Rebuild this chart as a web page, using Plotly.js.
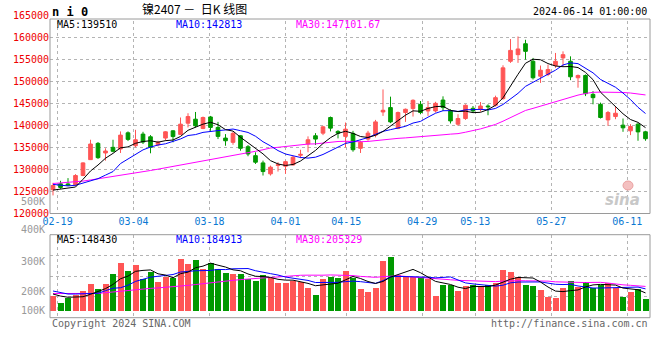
<!DOCTYPE html>
<html><head><meta charset="utf-8">
<script src="https://cdn.plot.ly/plotly-3.0.1.min.js"></script>
<style>html,body{margin:0;padding:0;background:#fff}#chart{width:660px;height:360px}</style>
</head><body><div id="chart"></div>
<script>
// ---------- data ----------
const dates = ["02-08","02-19","02-20","02-21","02-22","02-23","02-26","02-27","02-28","02-29",
"03-01","03-04","03-05","03-06","03-07","03-08","03-11","03-12","03-13","03-14",
"03-15","03-18","03-19","03-20","03-21","03-22","03-25","03-26","03-27","03-28",
"03-29","04-01","04-02","04-03","04-08","04-09","04-10","04-11","04-12","04-15",
"04-16","04-17","04-18","04-19","04-22","04-23","04-24","04-25","04-26","04-29",
"04-30","05-06","05-07","05-08","05-09","05-10","05-13","05-14","05-15","05-16",
"05-17","05-20","05-21","05-22","05-23","05-24","05-27","05-28","05-29","05-30",
"05-31","06-03","06-04","06-05","06-06","06-07","06-11","06-12","06-13","06-14"];
const openP = [125400,126740,126700,126510,128610,132210,135900,133720,135000,134620,
138290,135360,138000,137390,135590,137100,138740,137930,140480,141380,
139280,141890,139510,137100,136130,137620,135140,133110,131470,128990,
130900,130720,131020,133200,135750,137620,138220,141760,138610,137480,
138160,134780,136870,137770,143020,144010,139280,142890,143790,144750,
143250,143250,145720,143250,140250,141530,143850,143630,144370,144530,
146040,154510,156010,158490,154510,151130,151510,153540,155270,154510,
150770,151290,147010,144750,141220,141980,140030,138740,140250,138520];
const highP = [126960,127410,128020,128920,131620,136720,136200,134780,136720,138610,
138610,138970,138520,137770,136490,138670,138900,141760,142730,143020,
141980,142120,140770,138000,138520,137770,135520,133880,131990,130860,
131630,131990,133040,134460,137480,138220,139870,141980,138900,140630,
138740,136490,138740,141220,148130,146490,143110,143790,145880,145500,
145500,145320,146560,143630,142500,144750,144370,145270,144750,146710,
153600,159550,160140,159390,155270,153540,153760,156400,156760,155630,
151510,151510,147750,145140,143250,144240,141530,140250,140480,138740];
const lowP = [124100,125610,126300,126220,128470,132140,132370,131990,133880,133720,
136420,135000,135750,133650,135230,136490,136130,137770,139510,139510,
139120,138740,136870,135360,135590,134240,132980,131240,128610,128610,
129510,128990,130860,132530,133880,135520,137770,138610,137030,135000,
134010,133720,136490,137260,142120,140480,139120,140770,141980,142500,
142120,142890,143250,140410,139870,141220,142890,143110,142280,144240,
145810,154150,154150,154890,150380,149600,151130,153020,153380,150230,
148520,146620,144750,141530,139870,141380,138520,137770,136490,136490];
const closeP = [126350,125910,126450,128610,131470,135750,132660,134170,134100,137770,
136800,136720,136200,135000,136130,138520,137440,140250,141980,139870,
141760,139510,137480,136490,138160,134780,133490,131630,129510,130500,
131050,131760,132750,133400,136720,136870,139640,139350,138220,139120,
134460,136130,138220,140770,143400,140770,142890,143630,145660,142890,
144010,144980,144010,140990,141530,144530,143250,144370,144200,146260,
153020,156980,157300,156760,150770,152480,152640,154510,156010,150990,
151290,147160,146260,141760,142890,142730,139420,139730,138500,136950];
const volume = [122000,62000,103000,131000,164000,222000,181000,222000,306000,400000,
331000,381000,262000,325000,239000,278000,270000,431000,389000,422000,
345000,395000,345000,312000,306000,306000,262000,250000,298000,270000,
228000,228000,248000,242000,192000,131000,264000,283000,275000,333000,
270000,181000,158000,192000,417000,450000,298000,278000,278000,278000,
262000,125000,214000,214000,164000,206000,214000,206000,214000,228000,
339000,325000,278000,214000,206000,172000,117000,108000,192000,248000,
200000,242000,192000,214000,233000,187000,117000,158000,178000,100000];
// moving-average values before enough visible days exist
const ma5Head  = [125300,125500,125700,126000];
const ma10Head = [126600,126350,126250,126400,126900,127500,127900,128700,129500];
const ma30Head = [126800,126900,127000,127150,127350,127600,127850,128100,128350,128600,
                  128900,129150,129450,129750,130050,130350,130650,130950,131250,131600,
                  131950,132300,132600,132900,133200,133500,133800,134100,134450];
const vma5Head  = [139000,122000,112000,112000];
const vma10Head = [164000,150000,139000,139000,139000,145000,145000,167000,187000];
const vma30Head = [143000,143000,143000,143000,143000,143000,144000,150000,157000,163000,
                   170000,176000,181000,186000,190000,194000,198000,204000,211000,218000,
                   226000,233000,240000,247000,253000,259000,265000,270000,275000];
const labelDates = ["02-19","03-04","03-18","04-01","04-15","04-29","05-13","05-27","06-11"];
const priceTicks = [120000,125000,130000,135000,140000,145000,150000,155000,160000,165000];
const volLabels = ["500K","400K","300K","200K","100K"];
const headerPrice = ["MA5:139510","MA10:142813","MA30:147101.67"];
const headerVol = ["MA5:148430","MA10:184913","MA30:205329"];

// ---------- helpers ----------
function movingAverage(vals, n, head){
  return vals.map((v,i)=> i < n-1 ? head[i] : vals.slice(i-n+1,i+1).reduce((a,b)=>a+b,0)/n);
}
const W=660,H=360;
const px = x => x/W, py = y => 1 - y/H;
const RED='#ff5555', GREEN='#009900', GRID='#b4b4b4', FRAME='#9a9a9a';
const MONO='DejaVu Sans Mono, monospace';

const idx = dates.map((d,i)=>i);
const N = dates.length;
const tickvals = labelDates.map(d => dates.indexOf(d)*N/(N-1) - 0.4);
const barColors = closeP.map((c,i)=> c >= openP[i] ? RED : GREEN);

const traces = [
  {type:'candlestick', x:idx, open:openP, high:highP, low:lowP, close:closeP,
   xaxis:'x', yaxis:'y', whiskerwidth:0, hoverinfo:'skip',
   increasing:{line:{color:RED,width:1}, fillcolor:RED},
   decreasing:{line:{color:GREEN,width:1}, fillcolor:GREEN}},
  {type:'scatter', mode:'lines', x:idx, y:movingAverage(closeP,30,ma30Head), line:{color:'#ff00ff',width:1}, xaxis:'x', yaxis:'y', hoverinfo:'skip'},
  {type:'scatter', mode:'lines', x:idx, y:movingAverage(closeP,10,ma10Head), line:{color:'#0000ff',width:1}, xaxis:'x', yaxis:'y', hoverinfo:'skip'},
  {type:'scatter', mode:'lines', x:idx, y:movingAverage(closeP,5,ma5Head), line:{color:'#000000',width:1}, xaxis:'x', yaxis:'y', hoverinfo:'skip'},
  {type:'bar', x:idx, y:volume, marker:{color:barColors, line:{width:0}}, width:0.8, xaxis:'x2', yaxis:'y2', hoverinfo:'skip'},
  {type:'scatter', mode:'lines', x:idx, y:movingAverage(volume,30,vma30Head), line:{color:'#ff00ff',width:1}, xaxis:'x2', yaxis:'y2', hoverinfo:'skip'},
  {type:'scatter', mode:'lines', x:idx, y:movingAverage(volume,10,vma10Head), line:{color:'#0000ff',width:1}, xaxis:'x2', yaxis:'y2', hoverinfo:'skip'},
  {type:'scatter', mode:'lines', x:idx, y:movingAverage(volume,5,vma5Head), line:{color:'#000000',width:1}, xaxis:'x2', yaxis:'y2', hoverinfo:'skip'}
];

const xRange = [-0.4, N-0.4];
const volLo = -58333, volHi = 633333;
const layout = {
  width:W, height:H, margin:{l:0,r:0,t:0,b:0}, paper_bgcolor:'#fff', plot_bgcolor:'#fff',
  showlegend:false, dragmode:false, bargap:0,
  xaxis:{domain:[px(50),px(650)], range:xRange, anchor:'y', tickmode:'array', tickvals:tickvals, ticktext:labelDates,
    showgrid:true, gridcolor:GRID, griddash:'dot', gridwidth:1, zeroline:false, showline:false, ticks:'',
    tickfont:{family:MONO,size:10,color:'#0a78d2'}, rangeslider:{visible:false}, fixedrange:true},
  yaxis:{domain:[py(213.5),py(15)], range:[120000,165000], anchor:'x', tickmode:'array', tickvals:priceTicks,
    ticktext:priceTicks.map(String), showgrid:true, gridcolor:GRID, griddash:'dot', gridwidth:1, zeroline:false,
    showline:false, ticks:'', tickfont:{family:MONO,size:10,color:'#ee0000'}, fixedrange:true},
  xaxis2:{domain:[px(50),px(650)], range:xRange, anchor:'y2', tickmode:'array', tickvals:tickvals, showticklabels:false,
    showgrid:true, gridcolor:GRID, griddash:'dot', gridwidth:1, zeroline:false, showline:false, ticks:'', fixedrange:true},
  yaxis2:{domain:[py(317.7),py(234.7)], range:[volLo,volHi], anchor:'x2', tick0:volLo, dtick:(volHi-volLo)/4,
    showticklabels:false, showgrid:true, gridcolor:GRID, griddash:'dot', gridwidth:1, zeroline:false, showline:false, ticks:'', fixedrange:true},
  shapes:[
    {type:'rect', xref:'paper', yref:'paper', x0:px(50.5), x1:px(651), y0:py(18.5), y1:py(12), fillcolor:'#fff', line:{width:0}, layer:'above'},
    {type:'rect', xref:'paper', yref:'paper', x0:px(50), x1:px(650), y0:py(213.5), y1:py(19), line:{color:FRAME,width:1}, layer:'above'},
    {type:'rect', xref:'paper', yref:'paper', x0:px(50), x1:px(650), y0:py(317.7), y1:py(234.7), line:{color:FRAME,width:1}, layer:'above'},
    {type:'circle', xref:'paper', yref:'paper', x0:px(623), x1:px(633), y0:py(190), y1:py(181), fillcolor:'#f4c0c0', line:{color:'#eaa0a0',width:1}, layer:'above'}
  ],
  annotations:[]
};
function txt(text, x, y, opts){
  layout.annotations.push(Object.assign({text:text, xref:'paper', yref:'paper', x:px(x), y:py(y), showarrow:false,
    xanchor:'left', yanchor:'middle', font:{family:MONO,size:10,color:'#000'}}, opts||{}));
}
txt('<b>n i 0</b>', 50, 12, {font:{family:MONO,size:12,color:'#000'}});
txt('镍2407 －  日K 线图', 140, 8, {font:{family:'Noto Sans CJK SC',size:12,color:'#000'}});
txt('2024-06-14 01:00:00', 649, 12, {xanchor:'right', font:{family:MONO,size:10,color:'#000'}});
const headerColors = ['#000000','#0000ff','#ff00ff'];
const headerX = [55,174,294];
headerPrice.forEach((t,i)=> txt(t, headerX[i], 24.5, {font:{family:MONO,size:10,color:headerColors[i]}}));
headerVol.forEach((t,i)=> txt(t, headerX[i], 239, {font:{family:MONO,size:10,color:headerColors[i]}}));
const volLabelY = [201,230,261,291,310];
volLabels.forEach((t,i)=> txt(t, 47, volLabelY[i], {xanchor:'right', font:{family:MONO,size:10,color:'#999999'}}));
txt('Copyright 2024 SINA.COM', 50, 323.5, {font:{family:MONO,size:10,color:'#666666'}});
txt('http://finance.sina.com.cn', 650, 323.5, {xanchor:'right', font:{family:MONO,size:10,color:'#666666'}});
txt('sina', 603, 200, {font:{family:'DejaVu Sans',size:15,color:'#c8c8c8',weight:700,style:'italic'}});

Plotly.newPlot('chart', traces, layout, {staticPlot:true, displayModeBar:false});
</script></body></html>
